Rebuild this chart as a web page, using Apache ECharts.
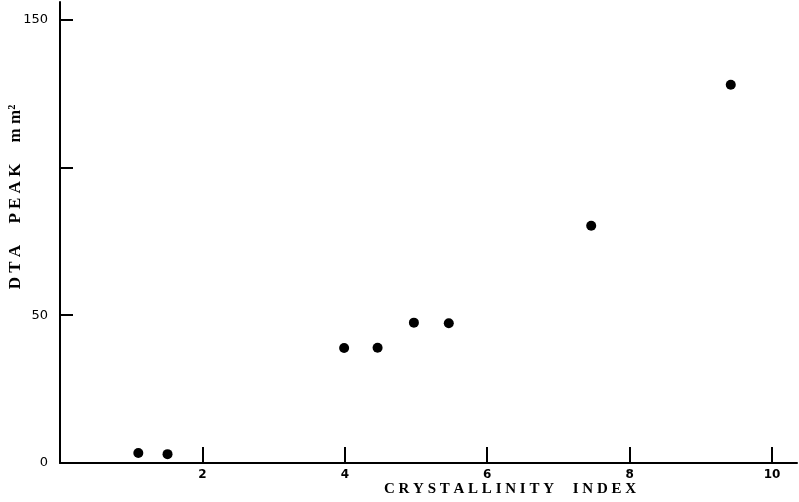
<!DOCTYPE html>
<html>
<head>
<meta charset="utf-8">
<script src="https://cdn.jsdelivr.net/npm/echarts@6/dist/echarts.min.js"></script>
<style>html,body{margin:0;padding:0;background:#fff}#c{width:799px;height:502px}</style>
</head>
<body>
<div id="c"></div>
<script>
const crystallinityIndex = [1.10, 1.51, 3.99, 4.46, 4.97, 5.46, 7.46, 9.42];
const dtaPeak = [3.4, 3.0, 38.9, 39.0, 47.5, 47.3, 80.3, 128.0];
const xTickValues = [2, 4, 6, 8, 10];
const yTickValues = [0, 50, 100, 150];
const yTickLabels = ['0', '50', '', '150'];
const xAxisTitle = 'C R Y S T A L L I N I T Y     I N D E X';
const yAxisTitle = 'D T A     P E A K     m m\u00B2';

const points = crystallinityIndex.map((x, i) => [x, dtaPeak[i]]);
const chart = echarts.init(document.getElementById('c'));
chart.setOption({
  backgroundColor: '#ffffff',
  animation: false,
  grid: { left: 60, right: 2, top: 2, bottom: 39 },
  xAxis: {
    type: 'value', min: 0, max: 10.35, interval: 2,
    axisLine: { lineStyle: { color: '#000', width: 2 } },
    axisTick: { inside: true, length: 16, lineStyle: { color: '#000', width: 2 },
      interval: (i, v) => xTickValues.indexOf(v) >= 0 },
    splitLine: { show: false },
    axisLabel: { margin: 6, color: '#000', fontFamily: 'DejaVu Sans', fontSize: 12, fontWeight: 'bold',
      showMinLabel: false, showMaxLabel: false,
      formatter: v => xTickValues.indexOf(v) >= 0 ? String(v) : '' }
  },
  yAxis: {
    type: 'value', min: 0, max: 156, interval: 50,
    axisLine: { lineStyle: { color: '#000', width: 2 } },
    axisTick: { inside: true, length: 13, lineStyle: { color: '#000', width: 2 },
      interval: (i, v) => yTickValues.indexOf(v) > 0 },
    splitLine: { show: false },
    axisLabel: { margin: 12, color: '#000', fontFamily: 'DejaVu Sans', fontSize: 13,
      showMaxLabel: false,
      formatter: v => { const k = yTickValues.indexOf(v); return k >= 0 ? yTickLabels[k] : ''; } }
  },
  graphic: [
    { type: 'text', x: 510, y: 489, style: { text: xAxisTitle, fill: '#000',
      font: 'bold 15px "Liberation Serif"', align: 'center', verticalAlign: 'middle' } },
    { type: 'text', x: 16, y: 197, rotation: Math.PI / 2, style: { text: yAxisTitle, fill: '#000',
      font: 'bold 17px "Liberation Serif"', align: 'center', verticalAlign: 'middle' } }
  ],
  series: [{
    type: 'scatter', data: points, symbol: 'circle', symbolSize: 10,
    itemStyle: { color: '#000', opacity: 1 }
  }]
});
</script>
</body>
</html>
